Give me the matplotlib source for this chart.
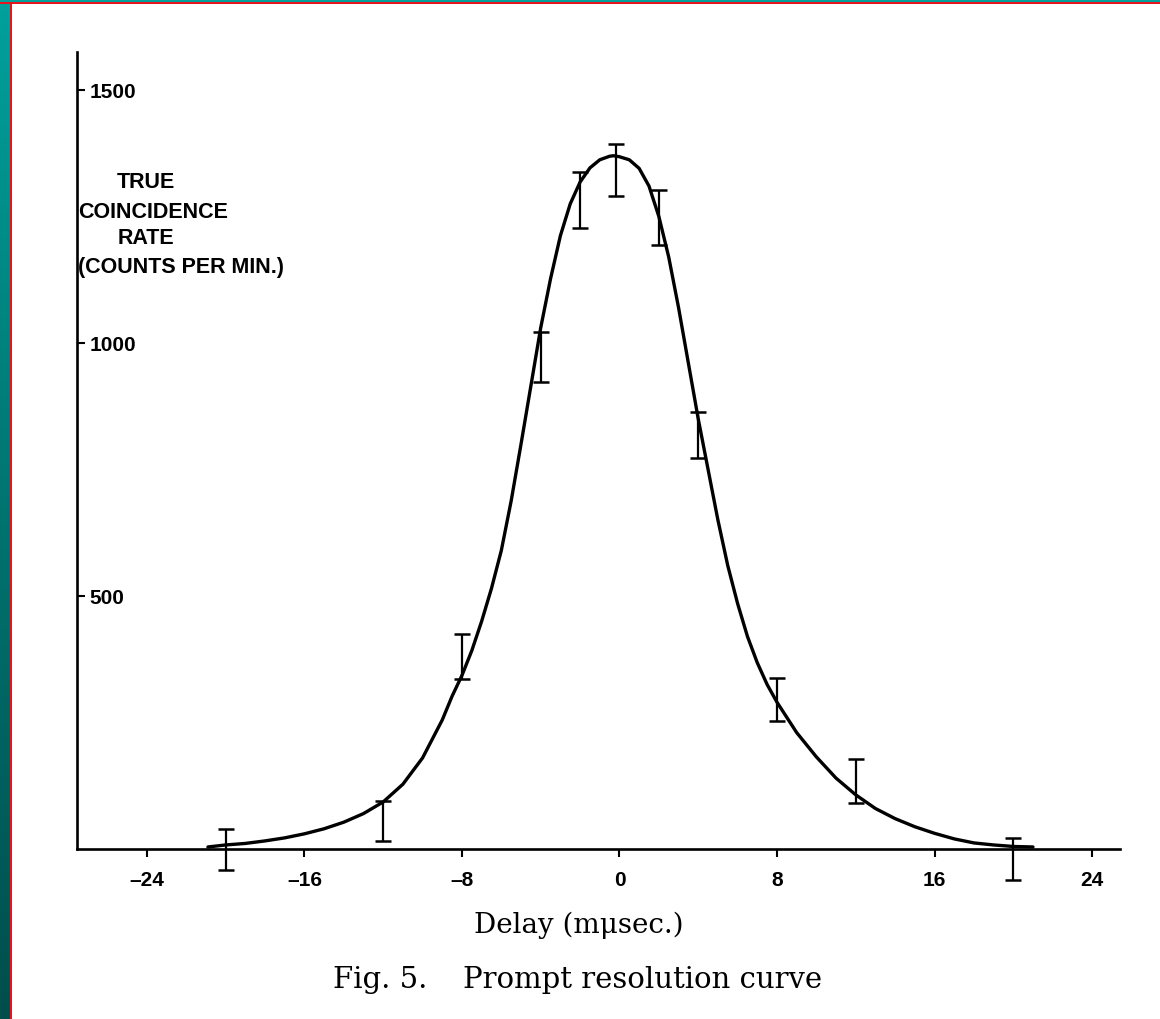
import numpy as np
import matplotlib
matplotlib.use("Agg")
import matplotlib.pyplot as plt
from matplotlib.patches import Rectangle
from matplotlib.colors import LinearSegmentedColormap

# ---- data ----
delay_pts = [-20, -12, -8, -4, -2, -0.2, 2, 4, 8, 12, 20]
rate_pts = [-1, 55, 380, 972, 1283, 1342, 1248, 818, 295, 134, -20]
rate_err = [40, 40, 45, 49, 55, 52, 55, 45, 43, 43, 41]

curve_x = [-20.9, -20.0, -19.0, -18.0, -17.0, -16.0, -15.0, -14.0, -13.0, -12.0,
           -11.0, -10.0, -9.0, -8.5, -8.0, -7.5, -7.0, -6.5, -6.0, -5.5,
           -5.0, -4.5, -4.0, -3.5, -3.0, -2.5, -2.0, -1.5, -1.0, -0.5,
           -0.3, 0.0, 0.5, 1.0, 1.5, 2.0, 2.5, 3.0, 3.5, 4.0,
           4.5, 5.0, 5.5, 6.0, 6.5, 7.0, 7.5, 8.0, 9.0, 10.0,
           11.0, 12.0, 13.0, 14.0, 15.0, 16.0, 17.0, 18.0, 19.0, 20.0, 21.0]
curve_y = [4, 8, 11, 16, 22, 30, 40, 53, 70, 93,
           128, 180, 255, 302, 343, 392, 450, 515, 590, 688,
           800, 915, 1030, 1127, 1212, 1275, 1318, 1346, 1362, 1369,
           1370, 1368, 1362, 1345, 1310, 1250, 1170, 1070, 960, 850,
           750, 650, 560, 485, 420, 368, 325, 290, 230, 182,
           140, 107, 80, 60, 44, 31, 20, 12, 8, 5, 4]

xticks = [-24, -16, -8, 0, 8, 16, 24]
xtick_labels = ["\u201324", "\u201316", "\u20138", "0", "8", "16", "24"]
yticks = [500, 1000, 1500]
ylabel_lines = ["TRUE", "COINCIDENCE", "RATE", "(COUNTS PER MIN.)"]
xlabel = "Delay (m\u03bcsec.)"
caption_num = "Fig. 5."
caption_text = "Prompt resolution curve"

W, H = 1160, 1020
fig = plt.figure(figsize=(W / 100, H / 100), dpi=100)
fig.patch.set_facecolor("white")

# border decoration (teal strip with red edge)
gax = fig.add_axes([0, 0, 10 / W, 1])
grad = np.linspace(0, 1, 256).reshape(-1, 1)
cm = LinearSegmentedColormap.from_list("teal", ["#00a19c", "#007470", "#004e4c"])
gax.imshow(grad, aspect="auto", cmap=cm, extent=[0, 1, 0, 1], origin="upper")
gax.set_axis_off()
fig.patches.append(Rectangle((0, 1 - 3 / H), 1, 3 / H, transform=fig.transFigure,
                             facecolor="#00a19c", edgecolor="none", zorder=5))
fig.patches.append(Rectangle((0, 1 - 5 / H), 1, 2 / H, transform=fig.transFigure,
                             facecolor="#e8141c", edgecolor="none", zorder=5))
fig.patches.append(Rectangle((10 / W, 0), 2 / W, 1 - 3 / H, transform=fig.transFigure,
                             facecolor="#e8141c", edgecolor="none", zorder=5))

x0, x1 = 77, 1120
y0, y1 = 850, 53
ax = fig.add_axes([x0 / W, 1 - y0 / H, (x1 - x0) / W, (y0 - y1) / H])
ax.set_facecolor("none")

ax.plot(curve_x, curve_y, color="black", lw=2.4, solid_capstyle="round",
        solid_joinstyle="round", clip_on=False, zorder=3)
ax.errorbar(delay_pts, rate_pts, yerr=rate_err, fmt="none", ecolor="black",
            elinewidth=1.6, capsize=6, capthick=1.8, clip_on=False, zorder=4)

ax.set_xlim(-27.55, 25.42)
ax.set_ylim(0, 1575)
for s in ["top", "right"]:
    ax.spines[s].set_visible(False)
for s in ["left", "bottom"]:
    ax.spines[s].set_linewidth(1.9)

tick_font = dict(fontfamily="Liberation Sans", fontweight="bold", fontsize=15)
ax.set_xticks(xticks)
ax.set_xticklabels(xtick_labels, **tick_font)
ax.set_yticks(yticks)
ax.set_yticklabels([str(t) for t in yticks], **tick_font)
ax.tick_params(axis="x", direction="out", length=6, width=1.5, pad=9)
ax.tick_params(axis="y", direction="in", length=6, width=1.5, pad=-9)
for lab in ax.get_yticklabels():
    lab.set_horizontalalignment("left")

# y-axis label block (inside plot, upper left)
line_y = [183, 212, 238, 268]
line_x = [146, 153, 146, 78]
line_ha = ["center", "center", "center", "left"]
for txt, yy, xx, ha in zip(ylabel_lines, line_y, line_x, line_ha):
    fig.text(xx / W, 1 - yy / H, txt, ha=ha, va="center",
             fontfamily="Liberation Sans", fontweight="bold", fontsize=15.5)

fig.text(579 / W, 1 - 925 / H, xlabel, ha="center", va="center",
         fontfamily="DejaVu Serif", fontsize=20)
fig.text(427 / W, 1 - 980 / H, caption_num, ha="right", va="center",
         fontfamily="DejaVu Serif", fontsize=21)
fig.text(463 / W, 1 - 980 / H, caption_text, ha="left", va="center",
         fontfamily="DejaVu Serif", fontsize=21)

fig.savefig("out.png", dpi=100, facecolor="white")
